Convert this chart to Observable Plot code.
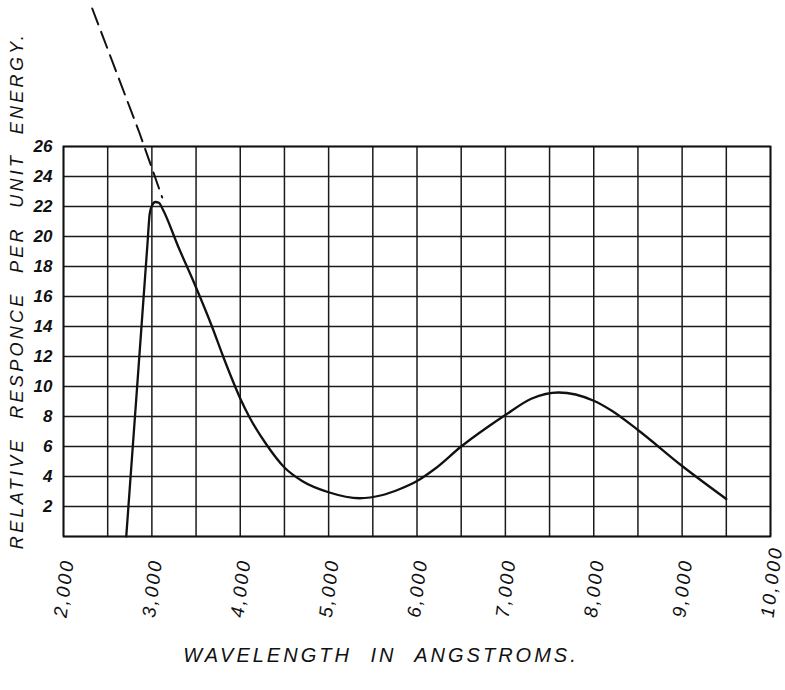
<!DOCTYPE html>
<html><head><meta charset="utf-8">
<script src="https://cdn.jsdelivr.net/npm/d3@7"></script>
<script src="https://cdn.jsdelivr.net/npm/@observablehq/plot@0.6"></script>
<style>
html,body{margin:0;padding:0;background:#fff;}
#chart svg{display:block;}
</style></head><body><div id="chart"></div>
<script>
// Measured response curve (wavelength in Å, relative response per unit energy)
const wavelength = [2710, 2850, 2950, 2975, 3000, 3040, 3080, 3120, 3300, 3500, 3680, 3800, 3900, 4000, 4100, 4300, 4500, 4700, 5000, 5350, 5600, 5800, 6000, 6200, 6500, 6800, 7000, 7300, 7600, 8000, 8200, 8500, 9000, 9500];
const response   = [0, 11.35, 19.5, 21.5, 22.05, 22.3, 22.25, 21.85, 19.3, 16.6, 14.0, 12.1, 10.6, 9.2, 8.0, 6.1, 4.6, 3.7, 2.95, 2.55, 2.75, 3.15, 3.7, 4.5, 6.0, 7.3, 8.1, 9.2, 9.6, 9.05, 8.4, 7.1, 4.7, 2.5];
// Dashed extrapolation toward shorter wavelengths
const extrapWavelength = [2325, 2860, 3117];
const extrapResponse   = [35.2, 26.9, 22.6];
// Grid and tick values
const xGridValues = [2000, 2500, 3000, 3500, 4000, 4500, 5000, 5500, 6000, 6500, 7000, 7500, 8000, 8500, 9000, 9500, 10000];
const yGridValues = [0, 2, 4, 6, 8, 10, 12, 14, 16, 18, 20, 22, 24, 26];
const xTickValues = [2000, 3000, 4000, 5000, 6000, 7000, 8000, 9000, 10000];
const xTickLabels = ["2,000", "3,000", "4,000", "5,000", "6,000", "7,000", "8,000", "9,000", "10,000"];
const yTickValues = [2, 4, 6, 8, 10, 12, 14, 16, 18, 20, 22, 24, 26];
const yTickLabels = ["2", "4", "6", "8", "10", "12", "14", "16", "18", "20", "22", "24", "26"];
const xTitle = "WAVELENGTH IN ANGSTROMS.";
const yTitle = "RELATIVE RESPONCE PER UNIT ENERGY.";

const curve = wavelength.map((w, i) => ({w, r: response[i]}));
const extrap = extrapWavelength.map((w, i) => ({w, r: extrapResponse[i]}));
const font = "'Liberation Sans', Arial, sans-serif";

const chart = Plot.plot({
  width: 785, height: 690,
  marginLeft: 63, marginRight: 15, marginTop: 146, marginBottom: 154,
  x: {domain: [2000, 10000], axis: null},
  y: {domain: [0, 26], axis: null},
  style: {background: "#fff", color: "#111", fontFamily: font},
  marks: [
    Plot.ruleX(xGridValues, {stroke: "#1b1b1b", strokeWidth: 1.5}),
    Plot.ruleY(yGridValues, {stroke: "#1b1b1b", strokeWidth: 1.5}),
    Plot.frame({stroke: "#111", strokeWidth: 1.8}),
    Plot.line(curve, {x: "w", y: "r", curve: "monotone-x", stroke: "#111", strokeWidth: 2.3}),
    Plot.line(extrap, {x: "w", y: "r", stroke: "#111", strokeWidth: 2, strokeDasharray: "17,8"}),
    Plot.text(yTickValues, {y: d => d, frameAnchor: "left", textAnchor: "end", dx: -11,
      text: (d, i) => yTickLabels[i], fontSize: 17, fontStyle: "italic", fontWeight: "bold", fill: "#111"}),
    Plot.text(xTickValues, {x: d => d, frameAnchor: "bottom", rotate: -83, textAnchor: "start", lineAnchor: "middle", dx: -3, dy: 81,
      text: (d, i) => xTickLabels[i], fontSize: 19, fontStyle: "italic", fill: "#111"}),
    Plot.text([yTitle], {frameAnchor: "left", textAnchor: "middle", rotate: -90, dx: -46, dy: -51, text: d => d,
      fontSize: 18, fontStyle: "italic", fill: "#111"}),
    Plot.text([xTitle], {frameAnchor: "bottom", textAnchor: "middle", dx: -36, dy: 125, text: d => d,
      fontSize: 20, fontStyle: "italic", fill: "#111"})
  ]
});
// Hand-lettered look: wide letter spacing on titles and x tick labels
const sel = d3.select(chart).selectAll("text");
sel.filter(function() { return this.textContent === xTitle; }).style("letter-spacing", "3px").style("word-spacing", "10px");
sel.filter(function() { return this.textContent === yTitle; }).style("letter-spacing", "3.3px").style("word-spacing", "10px");
sel.filter(function() { return xTickLabels.includes(this.textContent); }).style("letter-spacing", "2.3px");
document.getElementById("chart").append(chart);
</script>
</body></html>
